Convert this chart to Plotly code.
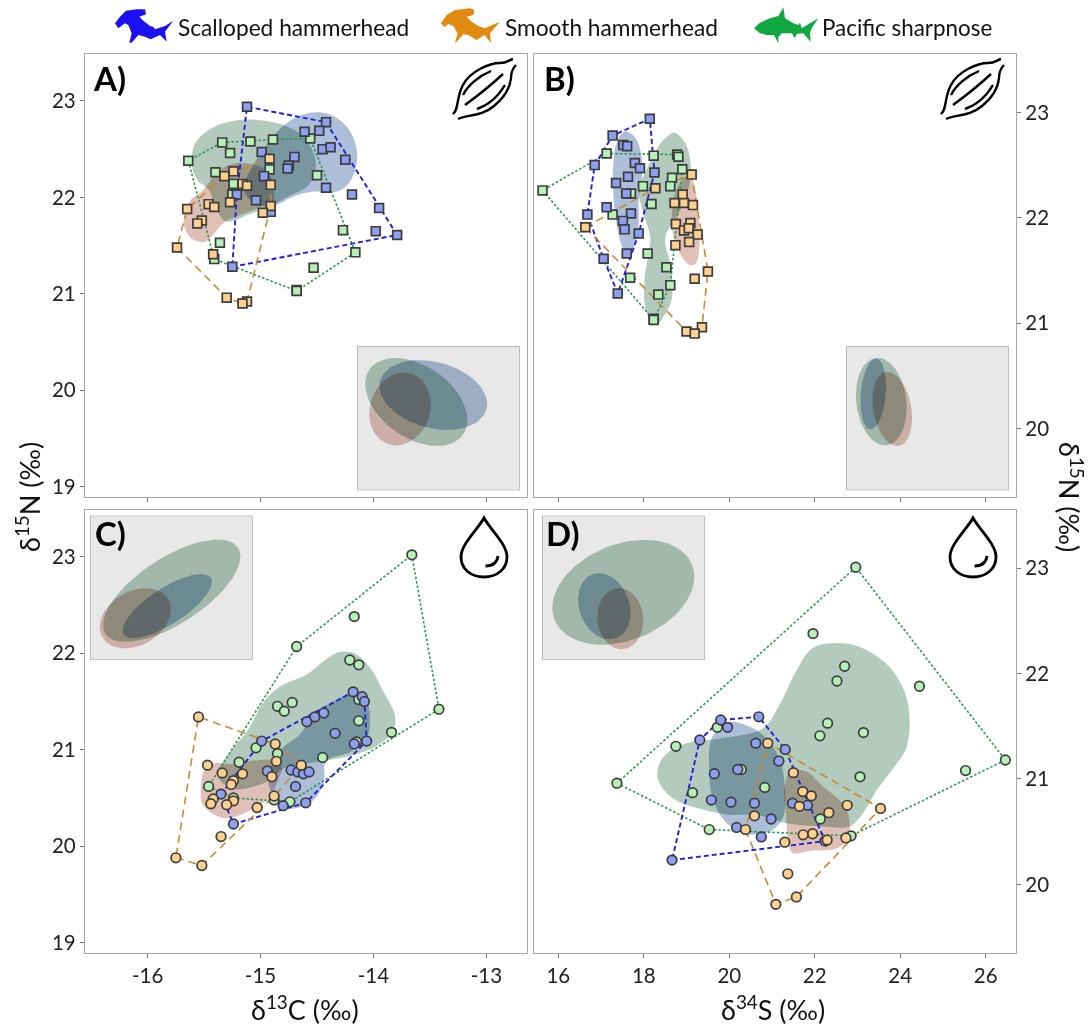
import numpy as np
import plotly.graph_objects as go

W, H = 1089, 1027
FONT = "Lato"

# ---------- data: delta values per species and tissue ----------
A_blue_x = [-15.12,-14.42,-14.61,-14.48,-14.45,-14.38,-14.25,-14.99,-14.70,-14.75,-14.76,-14.97,-14.42,-14.19,-13.95,-13.98,-13.79,-15.25,-15.21,-15.04,-14.91]
A_blue_y = [22.94,22.78,22.68,22.69,22.50,22.52,22.39,22.47,22.42,22.33,22.30,22.22,22.10,22.03,21.89,21.65,21.61,21.28,22.03,21.97,21.85]
A_green_x = [-15.64,-15.34,-15.09,-14.89,-14.56,-15.27,-15.40,-14.92,-15.24,-15.25,-14.50,-14.27,-14.16,-14.53,-14.68,-14.68,-15.36,-15.41]
A_green_y = [22.38,22.57,22.58,22.60,22.61,22.46,22.26,22.29,22.14,22.03,22.23,21.66,21.43,21.27,21.04,21.03,21.53,21.36]
A_orange_x = [-14.92,-15.24,-15.32,-15.16,-15.12,-14.91,-15.27,-15.46,-15.41,-15.65,-15.52,-15.56,-14.91,-14.98,-15.74,-15.42,-15.30,-15.12,-15.16]
A_orange_y = [22.40,22.27,22.22,22.14,22.12,22.13,21.95,21.93,21.90,21.88,21.76,21.73,21.91,21.84,21.48,21.41,20.96,20.92,20.90]

B_blue_x = [18.14,17.27,17.52,17.61,16.85,17.79,17.91,18.25,17.63,17.35,17.59,17.13,16.68,17.70,17.51,17.55,17.88,17.60,17.06,17.39]
B_blue_y = [22.94,22.78,22.69,22.68,22.50,22.52,22.47,22.43,22.39,22.33,22.23,22.10,22.03,22.04,21.97,21.89,21.85,21.66,21.61,21.28]
B_green_x = [15.63,17.13,18.23,18.78,18.81,18.90,18.66,18.62,17.98,17.70,18.18,17.27,18.09,18.53,17.68,18.62,18.34,18.23,18.23]
B_green_y = [22.26,22.61,22.59,22.60,22.58,22.46,22.38,22.30,22.30,22.23,22.13,22.03,21.66,21.53,21.43,21.36,21.27,21.04,21.03]
B_orange_x = [19.12,18.27,18.91,18.72,18.94,19.15,16.63,18.75,19.09,18.94,19.05,19.26,19.06,18.74,19.50,19.19,19.36,19.00,19.19]
B_orange_y = [22.41,22.28,22.22,22.14,22.14,22.12,21.91,21.94,21.95,21.88,21.90,21.84,21.77,21.74,21.49,21.42,20.96,20.92,20.90]

C_blue_x = [-14.18,-14.10,-14.08,-14.44,-14.52,-14.59,-14.34,-14.06,-14.17,-14.99,-14.73,-14.67,-14.62,-14.57,-14.94,-14.69,-15.35,-14.60,-14.80,-15.24]
C_blue_y = [21.60,21.55,21.50,21.38,21.34,21.29,21.17,21.09,21.06,21.09,20.79,20.77,20.75,20.77,20.78,20.62,20.54,20.45,20.42,20.23]
C_green_x = [-13.66,-14.17,-14.68,-14.21,-14.13,-14.72,-14.85,-14.79,-14.13,-14.13,-13.84,-13.42,-14.15,-15.04,-14.85,-14.45,-15.19,-15.46,-14.74,-15.24,-14.88]
C_green_y = [23.02,22.38,22.07,21.93,21.88,21.49,21.45,21.40,21.52,21.30,21.18,21.42,21.08,21.02,20.96,20.92,20.87,20.62,20.46,20.50,20.48]
C_orange_x = [-15.55,-14.87,-14.86,-15.47,-14.64,-15.34,-15.16,-14.90,-15.24,-15.26,-14.88,-15.42,-15.44,-15.24,-15.30,-15.03,-15.35,-15.75,-15.52]
C_orange_y = [21.34,21.06,20.88,20.84,20.84,20.76,20.75,20.72,20.68,20.64,20.52,20.49,20.44,20.47,20.43,20.40,20.10,19.88,19.80]

D_blue_x = [19.80,20.69,19.96,19.31,20.62,21.31,21.16,20.20,19.65,19.58,20.04,20.59,21.48,21.83,20.98,20.17,20.75,22.24,18.66]
D_blue_y = [21.56,21.59,21.49,21.37,21.34,21.28,21.17,21.09,21.05,20.80,20.78,20.77,20.77,20.75,20.62,20.54,20.45,20.41,20.23]
D_green_x = [22.96,21.96,22.70,22.52,24.45,22.30,22.12,23.14,18.75,19.72,26.46,25.53,23.06,17.37,19.14,20.83,22.13,19.53,22.85,20.28]
D_green_y = [23.01,22.38,22.07,21.93,21.88,21.53,21.41,21.44,21.31,21.49,21.18,21.08,21.02,20.96,20.87,20.92,20.62,20.52,20.46,21.09]
D_orange_x = [20.90,21.50,21.72,21.92,21.64,22.76,23.54,22.33,20.59,20.38,21.95,21.73,22.73,22.29,21.30,21.37,21.57,21.09]
D_orange_y = [21.34,21.06,20.88,20.84,20.74,20.75,20.72,20.68,20.65,20.52,20.48,20.47,20.44,20.42,20.40,20.10,19.88,19.81]

# ---------- density outlines ----------
A_kde_green_x = [-15.61,-15.58,-15.43,-15.21,-15.00,-14.80,-14.62,-14.52,-14.52,-14.59,-14.74,-14.88,-15.09,-15.30,-15.39,-15.46,-15.56]
A_kde_green_y = [22.35,22.56,22.72,22.80,22.80,22.75,22.63,22.42,22.25,22.11,22.02,21.93,21.83,21.75,21.87,22.08,22.18]
A_kde_blue_x = [-15.15,-15.09,-14.91,-14.77,-14.59,-14.41,-14.25,-14.16,-14.15,-14.21,-14.32,-14.53,-14.71,-14.87,-15.03]
A_kde_blue_y = [22.08,22.28,22.60,22.77,22.87,22.87,22.75,22.56,22.35,22.16,22.06,22.06,22.01,21.92,21.92]
A_kde_red_x = [-15.68,-15.62,-15.52,-15.39,-15.27,-15.09,-14.94,-14.89,-14.89,-15.00,-15.15,-15.30,-15.39,-15.49,-15.61,-15.67]
A_kde_red_y = [21.76,21.97,22.06,22.25,22.34,22.35,22.27,22.11,21.96,21.90,21.83,21.76,21.66,21.54,21.57,21.68]

B_kde_green_x = [18.71,18.97,19.10,19.04,18.81,18.50,18.63,18.65,18.46,18.29,18.07,18.01,18.13,18.15,17.99,17.88,18.03,18.34,18.54]
B_kde_green_y = [22.81,22.71,22.49,22.27,22.04,21.81,21.54,21.22,21.06,20.98,21.09,21.38,21.70,21.82,22.04,22.27,22.43,22.68,22.77]
B_kde_blue_x = [17.56,17.80,17.95,17.95,17.88,17.88,17.80,17.64,17.49,17.37,17.29,17.29,17.38]
B_kde_blue_y = [22.82,22.76,22.58,22.36,22.17,21.95,21.76,21.63,21.73,21.92,22.20,22.52,22.73]
B_kde_red_x = [18.94,19.08,19.20,19.28,19.30,19.22,19.08,18.89,18.69,18.67,18.77]
B_kde_red_y = [22.38,22.40,22.27,22.01,21.73,21.57,21.55,21.63,21.82,22.11,22.27]

C_kde_green_x = [-14.31,-14.17,-14.03,-13.92,-13.81,-13.83,-14.00,-14.23,-14.47,-14.68,-14.79,-14.94,-15.21,-15.35,-15.38,-15.27,-15.12,-14.97,-14.82,-14.59,-14.44]
C_kde_green_y = [22.01,22.00,21.85,21.62,21.36,21.19,21.02,20.93,20.88,20.84,20.81,20.67,20.59,20.67,20.76,20.98,21.19,21.50,21.66,21.78,21.92]
C_kde_blue_x = [-14.17,-14.06,-14.03,-14.06,-14.20,-14.42,-14.44,-14.53,-14.71,-14.82,-14.91,-14.93,-14.82,-14.65,-14.53,-14.35]
C_kde_blue_y = [21.59,21.50,21.29,21.12,20.98,20.88,20.67,20.48,20.39,20.41,20.57,20.74,21.00,21.16,21.36,21.50]
C_kde_red_x = [-15.53,-15.50,-15.41,-15.24,-15.06,-14.85,-14.81,-14.85,-14.91,-15.06,-15.29,-15.43,-15.52]
C_kde_red_y = [20.53,20.78,20.86,20.85,20.89,20.88,20.81,20.67,20.52,20.39,20.29,20.34,20.45]

D_kde_green_x = [22.46,23.01,23.71,24.10,24.22,24.14,23.83,23.43,23.12,22.81,22.19,21.33,20.62,20.00,19.38,18.67,18.32,18.44,18.99,19.69,20.78,21.17,21.56,21.95]
D_kde_green_y = [22.29,22.26,22.08,21.83,21.58,21.29,21.10,20.88,20.67,20.55,20.55,20.58,20.66,20.66,20.71,20.82,21.01,21.20,21.34,21.38,21.48,21.70,22.02,22.24]
D_kde_blue_x = [20.00,20.39,20.78,21.17,21.31,21.25,20.94,20.39,19.92,19.61,19.53,19.59]
D_kde_blue_y = [21.54,21.51,21.42,21.20,20.85,20.63,20.50,20.48,20.59,20.82,21.10,21.39]
D_kde_red_x = [21.44,21.80,22.19,22.73,22.79,22.50,21.95,21.48,21.37,21.33,21.29]
D_kde_red_y = [21.08,21.07,20.93,20.72,20.44,20.34,20.32,20.30,20.44,20.66,20.91]

# inset standard ellipses: centre x, centre y, semi-major, semi-minor, angle (deg), in inset units
A_sea = {"green": (59, 88.3, 57, 36, -35), "blue": (76, 95.3, 55, 33, -15), "red": (42.7, 81.3, 37, 30, 72)}
B_sea = {"green": (35, 88.7, 44, 25, 97), "blue": (27, 96.3, 35.5, 12.5, 85), "red": (46, 81.3, 37.5, 19, 100)}
C_sea = {"green": (81.7, 69.3, 79, 33, 33), "blue": (77.3, 54, 52, 18, 33), "red": (45.3, 41.7, 38, 27, 30)}
D_sea = {"green": (81, 67.7, 74, 48, 22), "blue": (62, 53.7, 34, 25, 110), "red": (78, 41.3, 30.5, 23, 95)}

xticks_C = [-16, -15, -14, -13]
xticks_S = [16, 18, 20, 22, 24, 26]
yticks_N = [19, 20, 21, 22, 23]
yticks_N2 = [20, 21, 22, 23]
legend_names = ["Scalloped hammerhead", "Smooth hammerhead", "Pacific sharpnose"]

# ---------- styling ----------
FILL = {"green": "rgb(178,203,190)", "blue": "rgb(172,190,216)", "red": "rgb(224,192,182)"}
MARK = {"blue": "#8c9ff0", "green": "#b6f0b6", "orange": "#fdd08e"}
HULL = {"blue": ("#2020dd", "5px,3px"), "green": ("#2a9a50", "2.5px,2px"), "orange": ("#cc8a30", "8px,5px")}
SHARK = {"blue": "#1a10f0", "orange": "#e08a10", "green": "#10a840"}

PANELS = {
    "A": dict(px=(85, 527, 53.7, 497), xr=(-16.555, -12.64), yr=(18.893, 23.49), inset=(357.3, 519.7, 346.3, 490.3)),
    "B": dict(px=(534, 1016, 53.7, 497), xr=(15.43, 26.71), yr=(19.348, 23.558), inset=(846.3, 1008.7, 346.3, 490.3)),
    "C": dict(px=(85, 527, 509.5, 953), xr=(-16.555, -12.64), yr=(18.893, 23.49), inset=(90, 252.7, 515.7, 660)),
    "D": dict(px=(534, 1016, 509.5, 953), xr=(15.43, 26.71), yr=(19.348, 23.558), inset=(542.3, 704.7, 515.7, 660)),
}
SERIES = {
    "A": ((A_green_x, A_green_y), (A_blue_x, A_blue_y), (A_orange_x, A_orange_y),
          (A_kde_green_x, A_kde_green_y), (A_kde_blue_x, A_kde_blue_y), (A_kde_red_x, A_kde_red_y), A_sea),
    "B": ((B_green_x, B_green_y), (B_blue_x, B_blue_y), (B_orange_x, B_orange_y),
          (B_kde_green_x, B_kde_green_y), (B_kde_blue_x, B_kde_blue_y), (B_kde_red_x, B_kde_red_y), B_sea),
    "C": ((C_green_x, C_green_y), (C_blue_x, C_blue_y), (C_orange_x, C_orange_y),
          (C_kde_green_x, C_kde_green_y), (C_kde_blue_x, C_kde_blue_y), (C_kde_red_x, C_kde_red_y), C_sea),
    "D": ((D_green_x, D_green_y), (D_blue_x, D_blue_y), (D_orange_x, D_orange_y),
          (D_kde_green_x, D_kde_green_y), (D_kde_blue_x, D_kde_blue_y), (D_kde_red_x, D_kde_red_y), D_sea),
}


def hull(xs, ys):
    pts = sorted(set(zip(xs, ys)))
    def half(seq):
        out = []
        for p in seq:
            while len(out) >= 2 and (out[-1][0]-out[-2][0])*(p[1]-out[-2][1]) - (out[-1][1]-out[-2][1])*(p[0]-out[-2][0]) <= 0:
                out.pop()
            out.append(p)
        return out[:-1]
    h = half(pts) + half(pts[::-1])
    h.append(h[0])
    return [p[0] for p in h], [p[1] for p in h]


def ellipse(cx, cy, a, b, ang):
    t = np.linspace(0, 2*np.pi, 90)
    r = np.radians(ang)
    return (cx + a*np.cos(t)*np.cos(r) - b*np.sin(t)*np.sin(r),
            cy + a*np.cos(t)*np.sin(r) + b*np.sin(t)*np.cos(r))


def pp(x, y):
    return f"{x/W:.5f},{1-y/H:.5f}"


fig = go.Figure()
layout = {}
for i, (name, p) in enumerate(PANELS.items()):
    n = i + 1
    ins = n + 4
    l, r, t, b = p["px"]
    bottom = name in "CD"
    is_c = name in "AC"
    xt = xticks_C if is_c else xticks_S
    yt = yticks_N if is_c else yticks_N2
    layout[f"xaxis{n}"] = dict(domain=[l/W, r/W], range=list(p["xr"]), anchor=f"y{n}", tickvals=xt,
                               ticktext=[str(v) for v in xt], showticklabels=bottom, ticks="outside", ticklen=4,
                               tickcolor="#777", tickwidth=1.3, showgrid=False, zeroline=False, showline=True,
                               linecolor="#a8a8a8", linewidth=1.3, mirror=True,
                               tickfont=dict(family=FONT, size=20.5, color="#222"))
    layout[f"yaxis{n}"] = dict(domain=[1-b/H, 1-t/H], range=list(p["yr"]), anchor=f"x{n}", tickvals=yt,
                               ticktext=[str(v) for v in yt], side="left" if is_c else "right", ticks="outside",
                               ticklen=4, tickcolor="#777", tickwidth=1.3, showgrid=False, zeroline=False,
                               showline=True, linecolor="#a8a8a8", linewidth=1.3, mirror=True,
                               tickfont=dict(family=FONT, size=20.5, color="#222"))
    il, ir, it, ib = p["inset"]
    layout[f"xaxis{ins}"] = dict(domain=[il/W, ir/W], range=[0, ir-il], anchor=f"y{ins}", visible=False)
    layout[f"yaxis{ins}"] = dict(domain=[1-ib/H, 1-it/H], range=[0, ib-it], anchor=f"x{ins}", visible=False)

    gr, bl, orr, kg, kb, kr, sea = SERIES[name]
    kw = dict(xaxis=f"x{n}", yaxis=f"y{n}", showlegend=False, hoverinfo="skip")
    for key, k in (("green", kg), ("blue", kb), ("red", kr)):
        fig.add_trace(go.Scatter(x=k[0]+k[0][:1], y=k[1]+k[1][:1], mode="lines", fill="toself",
                                 fillcolor=FILL[key], line=dict(width=0, shape="spline", smoothing=1), **kw))
    sym = "square" if name in "AB" else "circle"
    size = 8.8 if name in "AB" else 9.6
    for key, s in (("green", gr), ("blue", bl), ("orange", orr)):
        hx, hy = hull(s[0], s[1])
        col, dash = HULL[key]
        width = 1.9 if key == "blue" else 1.6
        fig.add_trace(go.Scatter(x=hx, y=hy, mode="lines", line=dict(color=col, width=width, dash=dash), **kw))
    for key, s in (("green", gr), ("blue", bl), ("orange", orr)):
        fig.add_trace(go.Scatter(x=s[0], y=s[1], mode="markers",
                                 marker=dict(symbol=sym, size=size, color=MARK[key],
                                             line=dict(color="#3c3c3c", width=1.7)), **kw))
    # inset
    ikw = dict(xaxis=f"x{ins}", yaxis=f"y{ins}", showlegend=False, hoverinfo="skip")
    fig.add_trace(go.Scatter(x=[0, ir-il, ir-il, 0, 0], y=[0, 0, ib-it, ib-it, 0], mode="lines", fill="toself",
                             fillcolor="#e8e8e8", line=dict(color="#9a9a9a", width=1.2), **ikw))
    for key in ("green", "blue", "red"):
        ex, ey = ellipse(*sea[key])
        fig.add_trace(go.Scatter(x=ex, y=ey, mode="lines", fill="toself", fillcolor=FILL[key],
                                 line=dict(width=0), **ikw))

# ---------- texts ----------
ann = []
def text(x, y, s, size, anchor="center", bold=False, angle=0, color="#111"):
    ann.append(dict(x=x/W, y=1-y/H, xref="paper", yref="paper", text=f"<b>{s}</b>" if bold else s, showarrow=False,
                    xanchor=anchor, yanchor="middle", textangle=angle,
                    font=dict(family=FONT, size=size, color=color)))

text(91, 78, "A)", 33, "left", True, color="#000")
text(542, 78, "B)", 33, "left", True, color="#000")
text(93, 533, "C)", 33, "left", True, color="#000")
text(544, 533, "D)", 33, "left", True, color="#000")
text(176, 27, legend_names[0], 22.7, "left")
text(503, 27, legend_names[1], 22.7, "left")
text(820, 27, legend_names[2], 22.4, "left")
text(28, 497, "δ<sup>15</sup>N (‰)", 27, angle=-90)
text(1071, 497, "δ<sup>15</sup>N (‰)", 27, angle=90)
text(305, 1008, "δ<sup>13</sup>C (‰)", 27)
text(773, 1008, "δ<sup>34</sup>S (‰)", 27)

# ---------- icons ----------
shapes = []
def stroke(path, width=2.6):
    shapes.append(dict(type="path", xref="paper", yref="paper", path=path, line=dict(color="#000", width=width),
                       fillcolor="rgba(0,0,0,0)", layer="above"))

def muscle(dx):
    P = lambda x, y: pp(x+dx, y)
    stroke(f"M{P(452.7,114)} C{P(459,111)} {P(456,97)} {P(463,85)} C{P(470,71)} {P(490,63)} {P(500,63)} C{P(507,63)} {P(509,60)} {P(513,59)}", 2.4)
    stroke(f"M{P(458,119)} C{P(468,114)} {P(481,117)} {P(494,106)} C{P(504,98)} {P(510,88)} {P(511,78)} C{P(511,72)} {P(513,68)} {P(516,65)}", 2.4)
    stroke(f"M{P(463,95)} C{P(468,85)} {P(479,76)} {P(491,71)}", 2.4)
    stroke(f"M{P(465,105)} C{P(476,97)} {P(490,86)} {P(503,74)}", 2.4)
    stroke(f"M{P(477,109)} C{P(489,105)} {P(499,95)} {P(505,85)}", 2.4)

def drop(cx):
    P = lambda dx, y: pp(cx+dx, y)
    stroke(f"M{P(0,518)} C{P(6,529)} {P(23,544)} {P(23,557)} C{P(23,569)} {P(13,577)} {P(0,577)} "
           f"C{P(-13,577)} {P(-23,569)} {P(-23,557)} C{P(-23,544)} {P(-6,529)} {P(0,518)} Z", 2.8)
    stroke(f"M{P(1.5,566)} C{P(8,566)} {P(13,563)} {P(14,556)}", 2.8)

muscle(0); muscle(488); drop(484); drop(973)

def silhouette(x0, pts, color):
    d = "M" + " L".join(pp(x0+a/3, b/3) for a, b in pts) + " Z"
    shapes.append(dict(type="path", xref="paper", yref="paper", path=d, line=dict(width=0), fillcolor=color, layer="above"))

silhouette(110, [(15,70),(30,50),(48,32),(80,28),(105,28),(108,43),(88,50),(100,62),(120,78),(130,80),(135,88),(165,78),(190,62),(178,78),(165,95),(170,125),(150,105),(135,112),(122,118),(105,110),(85,105),(65,128),(58,128),(65,100),(55,75),(45,70),(25,85)], SHARK["blue"])
silhouette(435, [(18,70),(35,45),(60,30),(105,25),(118,30),(115,45),(95,50),(110,65),(130,78),(150,85),(195,65),(178,85),(165,100),(168,128),(148,105),(125,120),(100,105),(85,103),(65,125),(60,128),(68,100),(55,78),(40,72),(28,82)], SHARK["orange"])
silhouette(750, [(12,85),(30,68),(60,55),(85,48),(100,22),(105,55),(130,70),(145,75),(150,68),(155,85),(205,55),(185,85),(180,100),(182,125),(160,100),(140,102),(135,115),(125,100),(95,100),(85,112),(85,130),(72,105),(50,105),(30,100)], SHARK["green"])

fig.update_layout(width=W, height=H, margin=dict(l=0, r=0, t=0, b=0), paper_bgcolor="white", plot_bgcolor="white",
                  annotations=ann, shapes=shapes, showlegend=False, **layout)
POST = """
document.body.style.margin='0';document.body.style.overflow='hidden';
function blendFills(){document.querySelectorAll('.js-fill').forEach(function(el){el.style.mixBlendMode='multiply';});}
blendFills();setTimeout(blendFills,0);setTimeout(blendFills,200);
"""
fig.write_html("out.html", post_script=POST, config={"displayModeBar": False})
